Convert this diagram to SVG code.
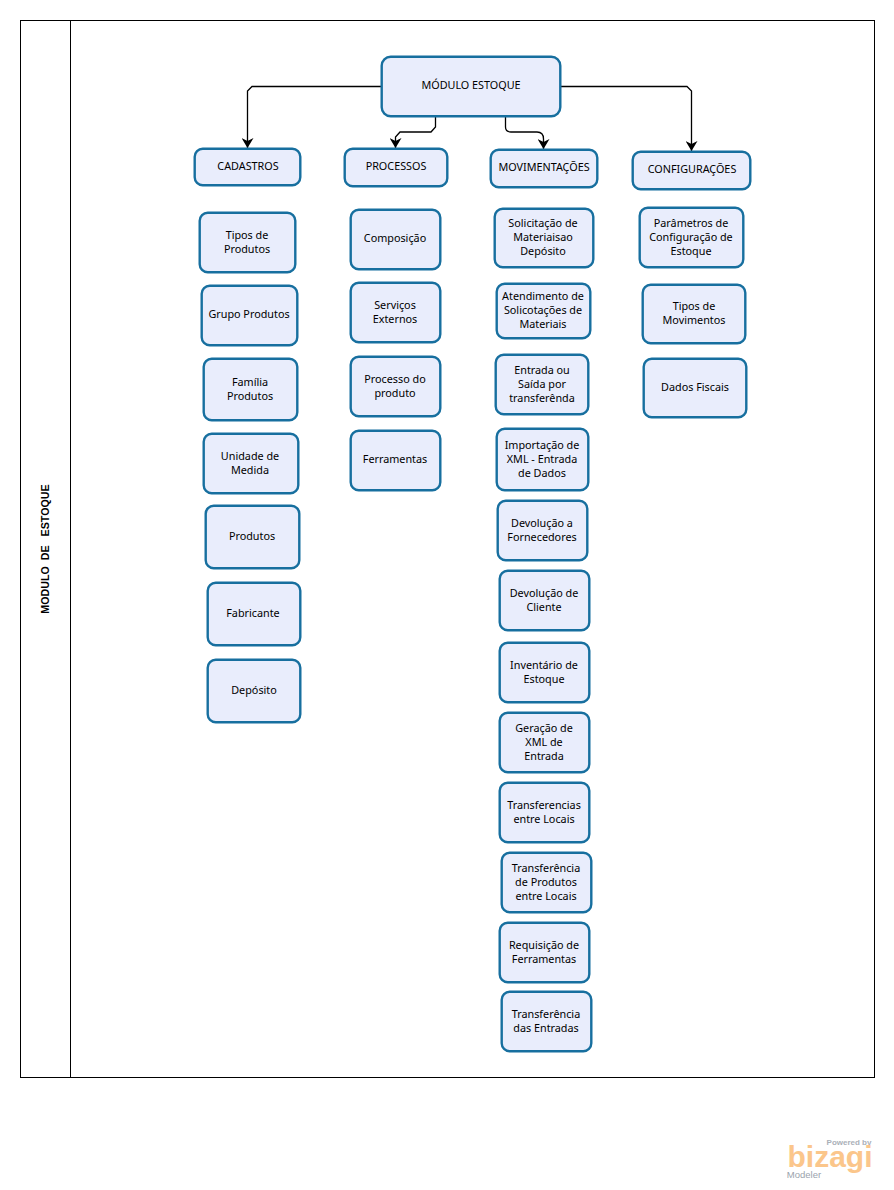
<svg xmlns="http://www.w3.org/2000/svg" width="894" height="1190" viewBox="0 0 894 1190">
<defs>
<marker id="arr" markerUnits="userSpaceOnUse" markerWidth="12" markerHeight="11" refX="6" refY="10" orient="0" viewBox="0 0 12 11"><path d="M0 0L6 3L12 0L6 10Z" fill="#000"/></marker>
</defs>
<style>
.b{fill:#e9edfc;stroke:#176f9f;stroke-width:2.4}
text{font-family:"Noto Sans","DejaVu Sans",sans-serif;font-size:10.8px;fill:#000;text-anchor:middle}
.c{fill:none;stroke:#000;stroke-width:1.3}
</style>
<rect width="894" height="1190" fill="#fff"/>
<g id="lane">
<rect x="20.5" y="20.5" width="854" height="1057" fill="#fff" stroke="#000"/>
<line x1="70.5" y1="20.5" x2="70.5" y2="1077.5" stroke="#000"/>
<text transform="translate(49 549) rotate(-90)" style="font-weight:700;font-size:10.7px;font-family:'Liberation Sans',sans-serif" xml:space="preserve">MODULO  DE   ESTOQUE</text>
</g>
<g id="connectors">
<path class="c" marker-end="url(#arr)" d="M381 86.500H252L247.500 91V148"/>
<path class="c" marker-end="url(#arr)" d="M435.500 117V127L431 132H400L395.500 137V148"/>
<path class="c" marker-end="url(#arr)" d="M505.500 117V127Q505.500 132 511 132H537Q543.500 132 543.500 139V149"/>
<path class="c" marker-end="url(#arr)" d="M561 86.500H687L691.500 91V151"/>
</g>
<g id="modulo"><rect class="b" x="381.700" y="56.700" width="178.600" height="59.600" rx="9"/><text x="471" y="89">MÓDULO ESTOQUE</text></g>
<g id="cadastros"><rect class="b" x="194.700" y="148.700" width="105.600" height="36.600" rx="8"/><text x="248" y="170">CADASTROS</text></g>
<g id="processos"><rect class="b" x="344.700" y="148.700" width="102.600" height="37.600" rx="8"/><text x="396" y="170">PROCESSOS</text></g>
<g id="movimentacoes"><rect class="b" x="490.700" y="149.700" width="106.600" height="37.600" rx="8"/><text x="544" y="171">MOVIMENTAÇÕES</text></g>
<g id="configuracoes"><rect class="b" x="632.700" y="151.700" width="117.600" height="37.600" rx="8"/><text x="692" y="173">CONFIGURAÇÕES</text></g>
<g id="tipos-produtos"><rect class="b" x="199.700" y="212.700" width="95.600" height="59.600" rx="8"/><text x="247" y="239">Tipos de</text><text x="247" y="253">Produtos</text></g>
<g id="grupo-produtos"><rect class="b" x="201.700" y="285.700" width="95.600" height="59.600" rx="8"/><text x="249" y="318">Grupo Produtos</text></g>
<g id="familia-produtos"><rect class="b" x="203.700" y="358.700" width="93.600" height="61.600" rx="8"/><text x="250" y="386">Família</text><text x="250" y="400">Produtos</text></g>
<g id="unidade-medida"><rect class="b" x="203.700" y="433.700" width="94.600" height="59.600" rx="8"/><text x="250" y="460">Unidade de</text><text x="250" y="474">Medida</text></g>
<g id="produtos"><rect class="b" x="205.700" y="505.700" width="93.600" height="62.600" rx="8"/><text x="252" y="540">Produtos</text></g>
<g id="fabricante"><rect class="b" x="207.700" y="582.700" width="92.600" height="62.600" rx="8"/><text x="253" y="617">Fabricante</text></g>
<g id="deposito"><rect class="b" x="207.700" y="659.700" width="92.600" height="62.600" rx="8"/><text x="254" y="694">Depósito</text></g>
<g id="composicao"><rect class="b" x="350.700" y="209.700" width="89.600" height="59.600" rx="8"/><text x="395" y="242">Composição</text></g>
<g id="servicos-externos"><rect class="b" x="350.700" y="282.700" width="89.600" height="59.600" rx="8"/><text x="395" y="309">Serviços</text><text x="395" y="323">Externos</text></g>
<g id="processo-produto"><rect class="b" x="350.700" y="356.700" width="89.600" height="59.600" rx="8"/><text x="395" y="383">Processo do</text><text x="395" y="397">produto</text></g>
<g id="ferramentas"><rect class="b" x="350.700" y="430.700" width="89.600" height="59.600" rx="8"/><text x="395" y="463">Ferramentas</text></g>
<g id="solicitacao"><rect class="b" x="494.700" y="208.700" width="98.600" height="58.600" rx="8"/><text x="543" y="227">Solicitação de</text><text x="543" y="241">Materiaisao</text><text x="543" y="255">Depósito</text></g>
<g id="atendimento"><rect class="b" x="496.700" y="283.700" width="93.600" height="54.600" rx="8"/><text x="543" y="300">Atendimento de</text><text x="543" y="314">Solicotações de</text><text x="543" y="328">Materiais</text></g>
<g id="entrada-saida"><rect class="b" x="495.700" y="354.700" width="92.600" height="59.600" rx="8"/><text x="542" y="374">Entrada ou</text><text x="542" y="388">Saída por</text><text x="542" y="402">transferênda</text></g>
<g id="importacao-xml"><rect class="b" x="496.700" y="428.700" width="91.600" height="61.600" rx="8"/><text x="542" y="449">Importação de</text><text x="542" y="463">XML - Entrada</text><text x="542" y="477">de Dados</text></g>
<g id="devolucao-fornecedores"><rect class="b" x="497.700" y="500.700" width="89.600" height="59.600" rx="8"/><text x="542" y="527">Devolução a</text><text x="542" y="541">Fornecedores</text></g>
<g id="devolucao-cliente"><rect class="b" x="499.700" y="570.700" width="89.600" height="59.600" rx="8"/><text x="544" y="597">Devolução de</text><text x="544" y="611">Cliente</text></g>
<g id="inventario"><rect class="b" x="499.700" y="642.700" width="89.600" height="59.600" rx="8"/><text x="544" y="669">Inventário de</text><text x="544" y="683">Estoque</text></g>
<g id="geracao-xml"><rect class="b" x="499.700" y="712.700" width="89.600" height="59.600" rx="8"/><text x="544" y="732">Geração de</text><text x="544" y="746">XML de</text><text x="544" y="760">Entrada</text></g>
<g id="transferencias-locais"><rect class="b" x="499.700" y="782.700" width="89.600" height="59.600" rx="8"/><text x="544" y="809">Transferencias</text><text x="544" y="823">entre Locais</text></g>
<g id="transferencia-produtos"><rect class="b" x="501.700" y="852.700" width="89.600" height="59.600" rx="8"/><text x="546" y="872">Transferência</text><text x="546" y="886">de Produtos</text><text x="546" y="900">entre Locais</text></g>
<g id="requisicao"><rect class="b" x="499.700" y="922.700" width="89.600" height="59.600" rx="8"/><text x="544" y="949">Requisição de</text><text x="544" y="963">Ferramentas</text></g>
<g id="transferencia-entradas"><rect class="b" x="501.700" y="991.700" width="89.600" height="59.600" rx="8"/><text x="546" y="1018">Transferência</text><text x="546" y="1032">das Entradas</text></g>
<g id="parametros"><rect class="b" x="639.700" y="207.700" width="103.600" height="59.600" rx="8"/><text x="691" y="227">Parâmetros de</text><text x="691" y="241">Configuração de</text><text x="691" y="255">Estoque</text></g>
<g id="tipos-movimentos"><rect class="b" x="642.700" y="284.700" width="102.600" height="58.600" rx="8"/><text x="694" y="310">Tipos de</text><text x="694" y="324">Movimentos</text></g>
<g id="dados-fiscais"><rect class="b" x="643.700" y="358.700" width="102.600" height="58.600" rx="8"/><text x="695" y="391">Dados Fiscais</text></g>
<g id="logo">
<text x="849" y="1145" style="font-size:8px;font-weight:700;fill:#aab0b8;font-family:'Liberation Sans',sans-serif">Powered by</text>
<text x="830" y="1167" style="font-size:30px;font-weight:700;fill:#fbc68b;font-family:'Liberation Sans',sans-serif" textLength="85" lengthAdjust="spacingAndGlyphs">bizagi</text>
<text x="804" y="1178" style="font-size:9.500px;fill:#9aa3ad;font-family:'Liberation Sans',sans-serif">Modeler</text>
</g>
</svg>
